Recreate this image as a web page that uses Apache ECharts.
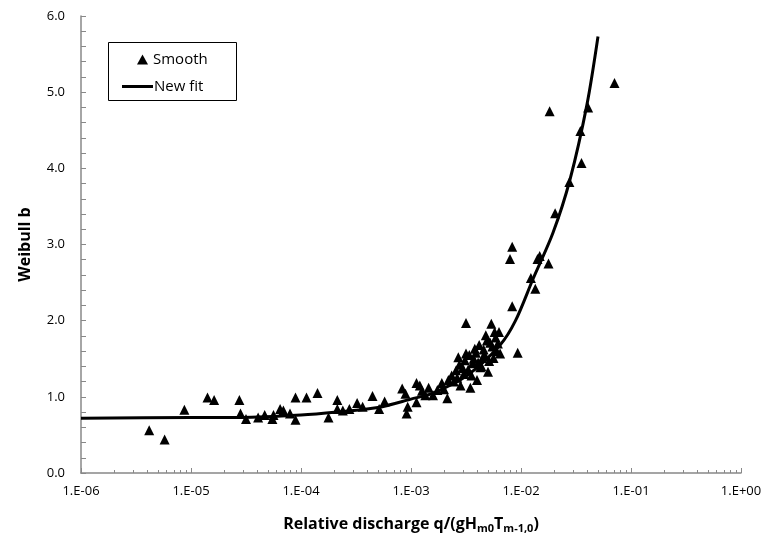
<!DOCTYPE html>
<html>
<head>
<meta charset="UTF-8">
<script src="https://cdn.jsdelivr.net/npm/echarts@6/dist/echarts.min.js"></script>
<style>body{margin:0;background:#fff}#c{width:767px;height:546px}</style>
</head>
<body>
<div id="c"></div>
<script>
// measured points: log10(q) and Weibull b
var smoothLogQ = [-5.38,-5.24,-5.06,-4.85,-4.79,-4.56,-4.55,-4.50,-4.39,-4.33,-4.26,-4.25,-4.19,-4.16,-4.10,-4.05,-4.05,-3.95,-3.85,-3.75,-3.67,-3.67,-3.62,-3.56,-3.49,-3.44,-3.35,-3.29,-3.24,-3.08,-3.05,-3.04,-3.03,-2.95,
    -2.95,-2.92,-2.87,-2.76,-2.67,-2.66,-2.57,-2.55,-2.53,-2.50,-2.50,-2.46,-2.44,-2.42,-2.40,-2.37,-2.35,-2.32,-2.30,-2.28,-2.27,-2.25,-2.24,-2.20,-2.19,
    -2.90,-2.84,-2.80,-2.72,-2.70,-2.63,-2.61,-2.59,-2.58,-2.56,-2.52,-2.51,-2.48,-2.47,-2.45,-2.43,-2.41,-2.39,-2.38,-2.36,-2.34,-2.33,-2.31,-2.29,-2.26,-2.23,-2.22,-2.21,
    -2.08,-2.08,-2.10,-2.03,-1.91,-1.87,-1.85,-1.83,-1.75,-1.74,-1.69,-1.56,-1.46,-1.45,-1.39,-1.15];
var smoothB = [0.56,0.44,0.83,0.99,0.96,0.96,0.78,0.71,0.73,0.76,0.71,0.76,0.84,0.82,0.78,0.70,0.99,0.99,1.05,0.73,0.96,0.84,0.82,0.84,0.92,0.87,1.01,0.84,0.94,1.11,1.04,0.78,0.87,1.18,
    0.93,1.15,1.02,1.09,0.98,1.22,1.52,1.15,1.38,1.57,1.97,1.12,1.44,1.63,1.22,1.39,1.51,1.81,1.33,1.71,1.96,1.51,1.85,1.85,1.57,
    1.08,1.12,1.02,1.18,1.10,1.28,1.20,1.35,1.25,1.42,1.30,1.48,1.36,1.55,1.28,1.50,1.58,1.45,1.68,1.40,1.62,1.55,1.74,1.47,1.66,1.78,1.60,1.70,
    2.19,2.97,2.81,1.58,2.56,2.42,2.81,2.85,2.75,4.75,3.41,3.82,4.49,4.07,4.80,5.12];
// fitted curve
var fitLogQ = [-6.00,-5.00,-4.55,-4.00,-3.67,-3.30,-3.00,-2.80,-2.49,-2.19,-2.05,-1.89,-1.71,-1.555,-1.40,-1.30];
var fitB = [0.72,0.73,0.73,0.76,0.80,0.86,0.97,1.05,1.28,1.68,2.00,2.55,3.15,3.85,4.84,5.73];

function pts(lx, ys) {
    return lx.map(function (v, i) { return [Math.pow(10, v), ys[i]]; });
}
var font = 'Open Sans';
var chart = echarts.init(document.getElementById('c'));
chart.setOption({
    animation: false,
    textStyle: { fontFamily: font },
    grid: { left: 81, right: 26, top: 16, bottom: 73 },
    graphic: [{
        type: 'rect', left: 108, top: 42,
        shape: { width: 128, height: 58 },
        style: { fill: '#fff', stroke: '#000', lineWidth: 1 }, z: -1
    }],
    legend: [
        {
            left: 132, top: 47, itemWidth: 11, itemHeight: 10, itemGap: 8,
            textStyle: { fontSize: 15, color: '#000' },
            data: [{ name: 'Smooth', icon: 'triangle', itemStyle: { color: '#000', opacity: 1 } }]
        },
        {
            left: 117, top: 74, itemWidth: 31, itemHeight: 3, itemGap: 3,
            textStyle: { fontSize: 15, color: '#000', padding: [0, 0, 0, -4] },
            data: [{ name: 'New fit', icon: 'rect', itemStyle: { color: '#000' } }]
        }
    ],
    xAxis: {
        type: 'log', min: 1e-6, max: 1, logBase: 10,
        axisLine: { lineStyle: { color: '#888', width: 1.5 } },
        axisTick: { inside: true, length: 5, lineStyle: { color: '#888' } },
        minorTick: { show: true, splitNumber: 9, length: 3, lineStyle: { color: '#888' } },
        splitLine: { show: false },
        axisLabel: {
            color: '#000', fontSize: 13, margin: 12,
            formatter: function (v) {
                var e = Math.round(Math.log10(v));
                var s = Math.abs(e) < 10 ? '0' + Math.abs(e) : '' + Math.abs(e);
                return '1.E' + (e < 0 ? '-' : '+') + s;
            }
        },
        name: '{b|Relative discharge q/(gH}{s|m0}{b|T}{s|m-1,0}{b|)}',
        nameLocation: 'middle', nameGap: 42,
        nameTextStyle: {
            rich: {
                b: { fontSize: 16, fontWeight: 'bold', color: '#000', fontFamily: font },
                s: { fontSize: 11, fontWeight: 'bold', color: '#000', fontFamily: font, verticalAlign: 'bottom', padding: [8, 0, 0, 0] }
            }
        }
    },
    yAxis: {
        type: 'value', min: 0, max: 6, interval: 1,
        axisLine: { show: true, lineStyle: { color: '#888', width: 1.5 } },
        axisTick: { show: true, inside: true, length: 5, lineStyle: { color: '#888' } },
        minorTick: { show: true, splitNumber: 5, length: 5, lineStyle: { color: '#888' } },
        splitLine: { show: false },
        axisLabel: { color: '#000', fontSize: 13, margin: 16, formatter: function (v) { return v.toFixed(1); } },
        name: 'Weibull b', nameLocation: 'middle', nameGap: 48,
        nameTextStyle: { fontSize: 16, fontWeight: 'bold', color: '#000' }
    },
    series: [
        {
            name: 'Smooth', type: 'scatter', symbol: 'triangle', symbolSize: 10,
            itemStyle: { color: '#000', opacity: 1 }, data: pts(smoothLogQ, smoothB)
        },
        {
            name: 'New fit', type: 'line', smooth: 0.3, showSymbol: false, symbol: 'none',
            lineStyle: { color: '#000', width: 3 }, itemStyle: { color: '#000' },
            data: pts(fitLogQ, fitB)
        }
    ]
});
</script>
</body>
</html>
